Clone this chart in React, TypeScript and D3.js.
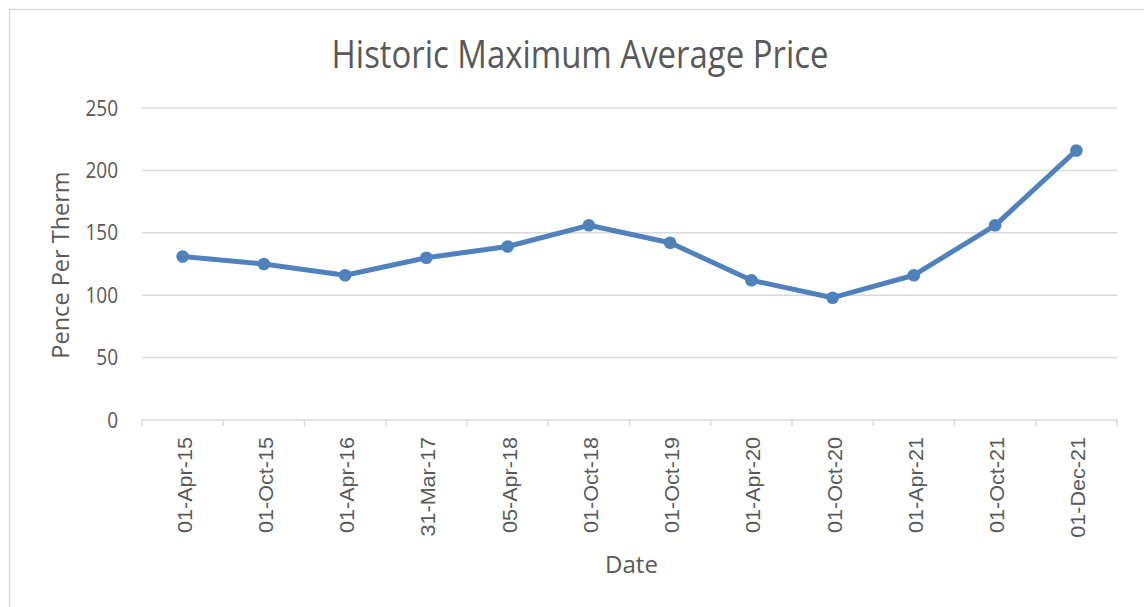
import React from "react";
import * as d3 from "d3";

const categories: string[] = [
  "01-Apr-15", "01-Oct-15", "01-Apr-16", "31-Mar-17", "05-Apr-18", "01-Oct-18",
  "01-Oct-19", "01-Apr-20", "01-Oct-20", "01-Apr-21", "01-Oct-21", "01-Dec-21",
];
const prices: number[] = [131, 125, 116, 130, 139, 156, 142, 112, 98, 116, 156, 216];
const yTicks: number[] = [0, 50, 100, 150, 200, 250];

const W = 1144;
const H = 607;
const left = 142;
const right = 1117;
const top = 108;
const bottom = 420;
const textColor = "#595959";
const lineColor = "#4f81bd";
const font = "'Open Sans', sans-serif";

export default function App() {
  const x = d3.scaleBand<string>().domain(categories).range([left, right]).padding(0);
  const y = d3.scaleLinear().domain([0, 250]).range([bottom, top]);
  const cxOf = (i: number) => (x(categories[i]) as number) + x.bandwidth() / 2;
  const line = d3
    .line<number>()
    .x((_, i) => cxOf(i))
    .y((d) => y(d));
  const boundaries = categories.map((c) => x(c) as number).concat([right]);

  return (
    <svg width={W} height={H} style={{ position: "absolute", left: 0, top: 0, background: "#fff" }}>
      <rect x={9.5} y={9.5} width={1150} height={620} fill="#fff" stroke="#d9d9d9" strokeWidth={1.5} />
      <text
        transform="translate(580,67.5) scale(1,1.17)"
        textAnchor="middle"
        fontFamily={font}
        fontSize={32.9}
        fill={textColor}
      >
        Historic Maximum Average Price
      </text>
      {yTicks.map((t) => (
        <g key={t}>
          {t > 0 && (
            <line x1={left} x2={right} y1={y(t)} y2={y(t)} stroke="#d9d9d9" strokeWidth={1.5} />
          )}
          <text
            transform={`translate(118,${y(t)}) scale(1,1.1)`}
            dy="0.36em"
            textAnchor="end"
            fontFamily={font}
            fontSize={19}
            fill={textColor}
          >
            {t}
          </text>
        </g>
      ))}
      <line x1={left} x2={right} y1={bottom} y2={bottom} stroke="#d9d9d9" strokeWidth={1.5} />
      {boundaries.map((b, i) => (
        <line key={i} x1={b} x2={b} y1={bottom} y2={bottom + 6} stroke="#d9d9d9" strokeWidth={1.5} />
      ))}
      {categories.map((c, i) => (
        <text
          key={c}
          transform={`translate(${cxOf(i) + 9},437) rotate(-90) scale(1.08,1)`}
          textAnchor="end"
          fontFamily="'Liberation Sans', Arial, sans-serif"
          fontSize={20}
          fill={textColor}
        >
          {c}
        </text>
      ))}
      <text
        transform="translate(69,265) rotate(-90)"
        textAnchor="middle"
        fontFamily={font}
        fontSize={23.5}
        fill={textColor}
      >
        Pence Per Therm
      </text>
      <text x={631.5} y={573} textAnchor="middle" fontFamily={font} fontSize={24} fill={textColor}>
        Date
      </text>
      <path d={line(prices) || ""} fill="none" stroke={lineColor} strokeWidth={5} strokeLinejoin="round" />
      {prices.map((p, i) => (
        <circle key={i} cx={cxOf(i)} cy={y(p)} r={6.3} fill={lineColor} />
      ))}
    </svg>
  );
}
